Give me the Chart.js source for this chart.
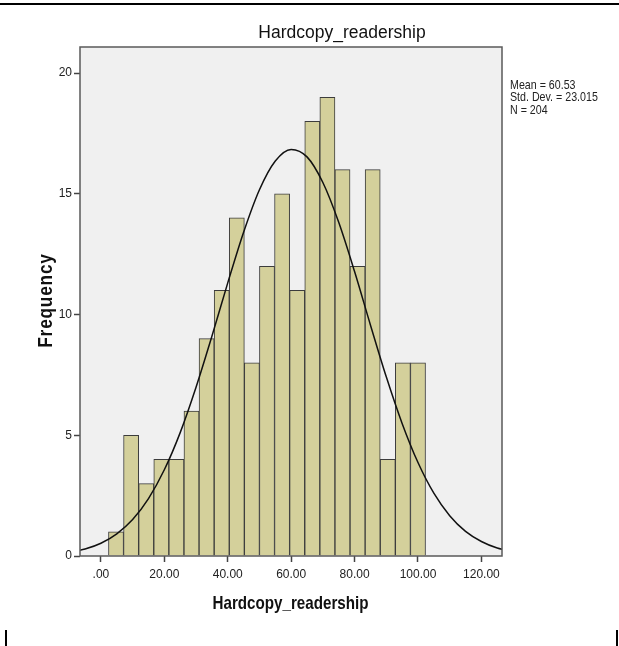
<!DOCTYPE html>
<html>
  <script src="https://cdnjs.cloudflare.com/ajax/libs/Chart.js/4.4.1/chart.umd.min.js"></script>
  <style>
    html, body {
      margin: 0;
      padding: 0;
      background: #fff;
    }
    #hist {
      display: block;
    }
  </style>
  <body>
    <canvas id="hist" width="619" height="646"></canvas>

    <script>
      // histogram bins (centre of each bin) and frequencies
      const binCenters = [4.76, 9.52, 14.29, 19.05, 23.81, 28.57, 33.33, 38.10, 42.86, 47.62, 52.38,
        57.14, 61.90, 66.67, 71.43, 76.19, 80.95, 85.71, 90.48, 95.24, 100.00];
      const counts = [1, 5, 3, 4, 4, 6, 9, 11, 14, 8, 12, 15, 11, 18, 19, 16, 12, 16, 4, 8, 8];

      // normal curve
      const curveX = [-10, -5, 0, 5, 10, 15, 20, 25, 30, 35, 40, 45, 50, 55, 60, 65, 70, 75, 80,
        85, 90, 95, 100, 105, 110, 115, 120, 125, 130];
      const curveY = [0.15, 0.29, 0.53, 0.92, 1.51, 2.38, 3.57, 5.11, 6.99, 9.10, 11.31, 13.41,
        15.17, 16.36, 16.84, 16.53, 15.47, 13.82, 11.78, 9.57, 7.42, 5.49, 3.87, 2.60, 1.67,
        1.02, 0.60, 0.33, 0.18];

      const xTicks = [0, 20, 40, 60, 80, 100, 120];
      const yTicks = [0, 5, 10, 15, 20];
      const statLines = ["Mean = 60.53", "Std. Dev. = 23.015", "N = 204"];

      const sans = "'Liberation Sans', Arial, sans-serif";

      // text squeezed sideways, the SPSS export is a narrow face
      function narrowText(ctx, txt, x, y, sx) {
        ctx.save();
        ctx.translate(x, y);
        ctx.scale(sx, 1);
        ctx.fillText(txt, 0, 0);
        ctx.restore();
      }

      const decor = {
        id: "decor",
        beforeDraw(chart) {
          const ctx = chart.ctx;
          const a = chart.chartArea;
          ctx.save();
          ctx.fillStyle = "#f0f0f0";
          ctx.fillRect(a.left, a.top, a.right - a.left, a.bottom - a.top);
          ctx.restore();
        },
        afterDraw(chart) {
          const ctx = chart.ctx;
          const a = chart.chartArea;
          ctx.save();

          // frame round the plot
          ctx.strokeStyle = "#5a5a5a";
          ctx.lineWidth = 1.5;
          ctx.strokeRect(a.left, a.top, a.right - a.left, a.bottom - a.top);

          // page lines
          ctx.fillStyle = "#000";
          ctx.fillRect(0, 3, 619, 2);
          ctx.fillRect(5, 630, 2, 16);
          ctx.fillRect(616, 630, 2, 16);

          ctx.fillStyle = "#111";
          ctx.textAlign = "center";
          ctx.textBaseline = "alphabetic";
          ctx.font = "17.5px " + sans;
          ctx.fillText("Hardcopy_readership", 342, 38);

          ctx.font = "bold 18.5px " + sans;
          narrowText(ctx, "Hardcopy_readership", 290.5, 609, 0.82);

          ctx.save();
          ctx.translate(52, 300.5);
          ctx.rotate(-Math.PI / 2);
          ctx.font = "bold 21px " + sans;
          ctx.letterSpacing = "1px";
          narrowText(ctx, "Frequency", 0, 0, 0.82);
          ctx.restore();

          ctx.textAlign = "left";
          ctx.font = "13px " + sans;
          ctx.fillStyle = "#222";
          for (let i = 0; i < statLines.length; i++) {
            narrowText(ctx, statLines[i], 510, 88.5 + i * 12.5, 0.82);
          }
          ctx.restore();
        },
      };

      new Chart(document.getElementById("hist"), {
        type: "bar",
        data: {
          datasets: [
            {
              type: "line",
              order: 0,
              data: curveX.map((x, i) => ({ x: x, y: curveY[i] })),
              borderColor: "#111",
              borderWidth: 1.5,
              pointRadius: 0,
              fill: false,
              cubicInterpolationMode: "monotone",
            },
            {
              type: "bar",
              order: 1,
              data: binCenters.map((x, i) => ({ x: x, y: counts[i] })),
              backgroundColor: "#d4d09b",
              borderColor: "#3c3c3c",
              borderWidth: 1,
              barPercentage: 1,
              categoryPercentage: 1,
            },
          ],
        },
        options: {
          responsive: false,
          animation: false,
          devicePixelRatio: 1,
          layout: {
            padding: { left: 0, top: 47, right: 117, bottom: 0 },
          },
          plugins: {
            legend: { display: false },
            tooltip: { enabled: false },
          },
          scales: {
            x: {
              type: "linear",
              offset: false,
              min: -6.6,
              max: 126.5,
              afterFit(s) {
                s.height = 90;
              },
              afterBuildTicks(s) {
                s.ticks = xTicks.map((v) => ({ value: v }));
              },
              border: { display: false },
              grid: {
                display: true,
                offset: false,
                drawOnChartArea: false,
                drawTicks: true,
                tickLength: 6,
                tickColor: "#444",
                tickWidth: 1.5,
              },
              ticks: {
                padding: 5,
                color: "#222",
                maxRotation: 0,
                font: { family: sans, size: 12 },
                callback: (v) => (v === 0 ? ".00" : v.toFixed(2)),
              },
            },
            y: {
              min: 0,
              max: 21.08,
              afterFit(s) {
                s.width = 80;
              },
              afterBuildTicks(s) {
                s.ticks = yTicks.map((v) => ({ value: v }));
              },
              border: { display: false },
              grid: {
                display: true,
                drawOnChartArea: false,
                drawTicks: true,
                tickLength: 6,
                tickColor: "#444",
                tickWidth: 1.5,
              },
              ticks: {
                padding: 2,
                color: "#222",
                font: { family: sans, size: 12 },
              },
            },
          },
        },
        plugins: [decor],
      });
    </script>
  </body>
</html>
